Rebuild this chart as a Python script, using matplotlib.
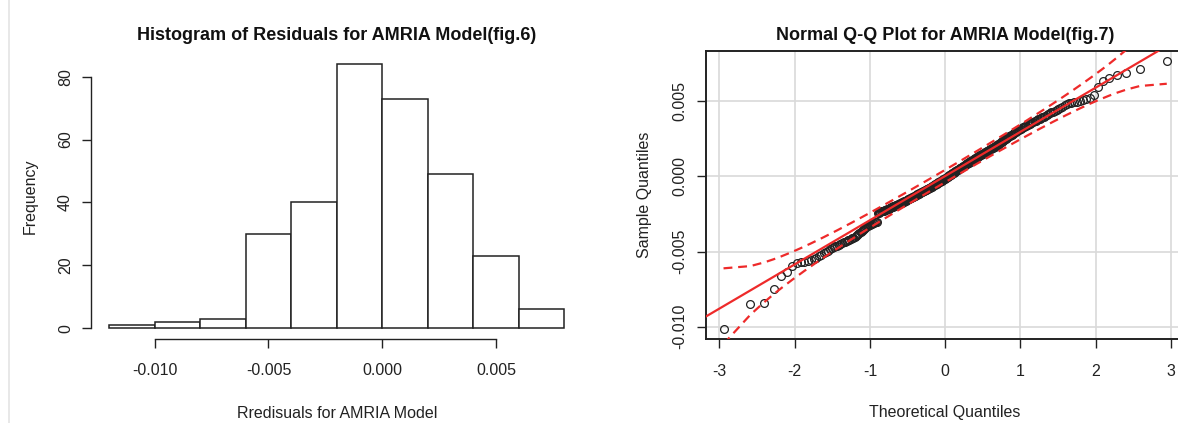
import numpy as np
import matplotlib
matplotlib.use("Agg")
import matplotlib.pyplot as plt
from matplotlib.lines import Line2D
from statistics import NormalDist

plt.rcParams["font.family"] = "Liberation Sans"
plt.rcParams["axes.unicode_minus"] = False

# histogram (fig.6)
bin_edges = [-0.012, -0.010, -0.008, -0.006, -0.004, -0.002, 0.000, 0.002, 0.004, 0.006, 0.008]
counts = [1, 2, 3, 30, 40, 84, 73, 49, 23, 6]
hist_xticks = [-0.010, -0.005, 0.000, 0.005]
hist_xlabels = ["-0.010", "-0.005", "0.000", "0.005"]
hist_yticks = [0, 20, 40, 60, 80]

# sorted residuals (fig.7), in units of 1e-5
resid_e5 = [
    -1013, -849, -842, -749, -664, -638,
    -598, -578, -572, -567, -562, -557, -550, -542, -530, -521,
    -512, -503, -495, -486, -478, -471, -465, -460, -455, -449,
    -444, -439, -434, -429, -424, -420, -415, -411, -407, -402,
    -396, -389, -382, -375, -368, -362, -356, -350, -344, -338,
    -333, -329, -325, -321, -318, -315, -312, -309, -306, -303, -300,
    -244, -241, -238, -236, -233, -231, -229, -227, -225, -223,
    -221, -219, -217, -215, -212, -209, -206, -203, -201,
    -199, -197, -194, -192, -190, -187, -185, -183, -181, -178,
    -176, -174, -171, -169, -167, -165, -162, -160, -157, -155,
    -153, -151, -148, -146, -143, -141, -139, -137, -134, -132,
    -130, -127, -125, -123, -120, -118, -116, -113, -111, -109,
    -106, -104, -102, -99, -97, -95, -92, -90, -88, -85,
    -83, -81, -78, -76, -74, -71, -69, -67, -64, -62,
    -60, -57, -55, -52, -50, -48, -45, -43, -40, -38,
    -35, -33, -30, -28, -25, -23, -20, -18, -15, -13,
    -10, -8, -5, -2,
    1, 4, 7, 10, 12, 15, 18, 21, 23, 26,
    29, 32, 34, 37, 40, 43, 46, 48, 51, 54,
    57, 59, 62, 65, 68, 70, 73, 76, 79, 81,
    84, 87, 90, 93, 95, 98, 101, 104, 106, 109,
    112, 115, 117, 120, 123, 126, 128, 131, 134, 137,
    140, 142, 145, 148, 151, 153, 156, 159, 162, 164,
    167, 170, 173, 175, 178, 181, 184, 187, 189, 192,
    195, 197, 200,
    203, 207, 211, 215, 219, 223, 227, 231, 235, 239,
    243, 247, 251, 255, 259, 263, 267, 271, 275, 279,
    283, 287, 291, 295, 299, 303, 307, 311, 315, 319,
    323, 327, 331, 335, 339, 343, 347, 351, 355, 360,
    364, 368, 372, 376, 381, 385, 389, 394, 399,
    405, 410, 416, 422, 428, 433, 439, 445, 452, 458,
    465, 474, 483, 487, 490, 494, 498, 503, 508, 515,
    524, 540, 595,
    638, 658, 678, 689, 713, 767,
]
qq_xticks = [-3, -2, -1, 0, 1, 2, 3]
qq_yticks = [-0.010, -0.005, 0.000, 0.005]
qq_ylabels = ["-0.010", "-0.005", "0.000", "0.005"]

W, H = 1178, 423
fig = plt.figure(figsize=(W / 100, H / 100), dpi=100)
fig.add_artist(Line2D([9 / W, 9 / W], [0, 1], color="#e4e4e4", lw=1.2))


def box(x0, x1, y0, y1):
    return [x0 / W, 1 - y1 / H, (x1 - x0) / W, (y1 - y0) / H]


red = "#ee2a2a"
ink = "#222222"
tick_fs = 11.5
lab_fs = 11.5
title_fs = 13

# ---- left: histogram
ax1 = fig.add_axes(box(91, 582.5, 53.5, 338.9))
ax1.bar(bin_edges[:-1], counts, width=np.diff(bin_edges), align="edge",
        facecolor="white", edgecolor=ink, linewidth=1.1)
ax1.set_xlim(-0.0128, 0.0088)
ax1.set_ylim(-3.36, 87.36)
for s in ["top", "right"]:
    ax1.spines[s].set_visible(False)
ax1.spines["left"].set_bounds(0, 80)
ax1.spines["bottom"].set_bounds(-0.010, 0.005)
for s in ["left", "bottom"]:
    ax1.spines[s].set_linewidth(1.0)
    ax1.spines[s].set_color(ink)
ax1.set_xticks(hist_xticks, hist_xlabels)
ax1.set_yticks(hist_yticks)
ax1.tick_params(length=6.5, width=1.0, color=ink, labelsize=tick_fs, labelcolor=ink)
ax1.tick_params(axis="x", pad=11)
ax1.tick_params(axis="y", pad=6.5, labelrotation=90)
for t in ax1.get_yticklabels():
    t.set_va("center")
ax1.text(0.5, (338.9 - 40) / (338.9 - 53.5), "Histogram of Residuals for AMRIA Model(fig.6)",
         transform=ax1.transAxes, ha="center", va="baseline", fontsize=title_fs,
         fontweight="bold", color="#111")
ax1.set_xlabel("Rredisuals for AMRIA Model", fontsize=lab_fs, color=ink)
ax1.xaxis.set_label_coords(0.5, (338.9 - 413) / (338.9 - 53.5))
ax1.xaxis.label.set_va("center")
ax1.set_ylabel("Frequency", fontsize=lab_fs, color=ink)
ax1.yaxis.set_label_coords((30 - 91) / (582.5 - 91), 0.5)
ax1.yaxis.label.set_va("center")

# ---- right: normal Q-Q plot
y = np.array(resid_e5) / 1e5
n = len(y)
nd = NormalDist()
P = (np.arange(1, n + 1) - 0.5) / n
z = np.array([nd.inv_cdf(p) for p in P])

q1, q3 = np.quantile(y, [0.25, 0.75])
zq1, zq3 = nd.inv_cdf(0.25), nd.inv_cdf(0.75)
slope = (q3 - q1) / (zq3 - zq1)
icpt = q1 - slope * zq1
fit = icpt + slope * z
dens = np.array([nd.pdf(v) for v in z])
se = slope / dens * np.sqrt(P * (1 - P) / n)
zz = nd.inv_cdf(0.975)

ax2 = fig.add_axes(box(705.8, 1184.5, 50.7, 339.2))
zpad = 0.04 * (z.max() - z.min())
ypad = 0.04 * (y.max() - y.min())
ax2.set_xlim(z.min() - zpad, z.max() + zpad)
ax2.set_ylim(y.min() - ypad, y.max() + ypad)
ax2.set_xticks(qq_xticks)
ax2.set_yticks(qq_yticks, qq_ylabels)
ax2.grid(True, color="#d9d9d9", lw=1.2)
ax2.set_axisbelow(True)
ax2.plot(z, y, "o", mfc="none", mec=ink, ms=5.6, mew=0.9, zorder=3)
ax2.axline((0, icpt), slope=slope, color=red, lw=1.6, zorder=4)
ax2.plot(z, fit + zz * se, color=red, lw=1.6, ls=(0, (4, 2.6)), zorder=4)
ax2.plot(z, fit - zz * se, color=red, lw=1.6, ls=(0, (4, 2.6)), zorder=4)
for s in ax2.spines.values():
    s.set_linewidth(1.4)
    s.set_color(ink)
ax2.tick_params(length=6.5, width=1.0, color=ink, labelsize=tick_fs, labelcolor=ink)
ax2.tick_params(axis="x", pad=11)
ax2.tick_params(axis="y", pad=6.5, labelrotation=90)
for t in ax2.get_yticklabels():
    t.set_va("center")
ax2.text(0.5, (339.2 - 40) / (339.2 - 50.7), "Normal Q-Q Plot for AMRIA Model(fig.7)",
         transform=ax2.transAxes, ha="center", va="baseline", fontsize=title_fs,
         fontweight="bold", color="#111")
ax2.set_xlabel("Theoretical Quantiles", fontsize=lab_fs, color=ink)
ax2.xaxis.set_label_coords(0.5, (339.2 - 413) / (339.2 - 50.7))
ax2.xaxis.label.set_va("center")
ax2.set_ylabel("Sample Quantiles", fontsize=lab_fs, color=ink)
ax2.yaxis.set_label_coords((645 - 705.8) / (1184.5 - 705.8), 0.5)
ax2.yaxis.label.set_va("center")

fig.savefig("out.png", dpi=100)
